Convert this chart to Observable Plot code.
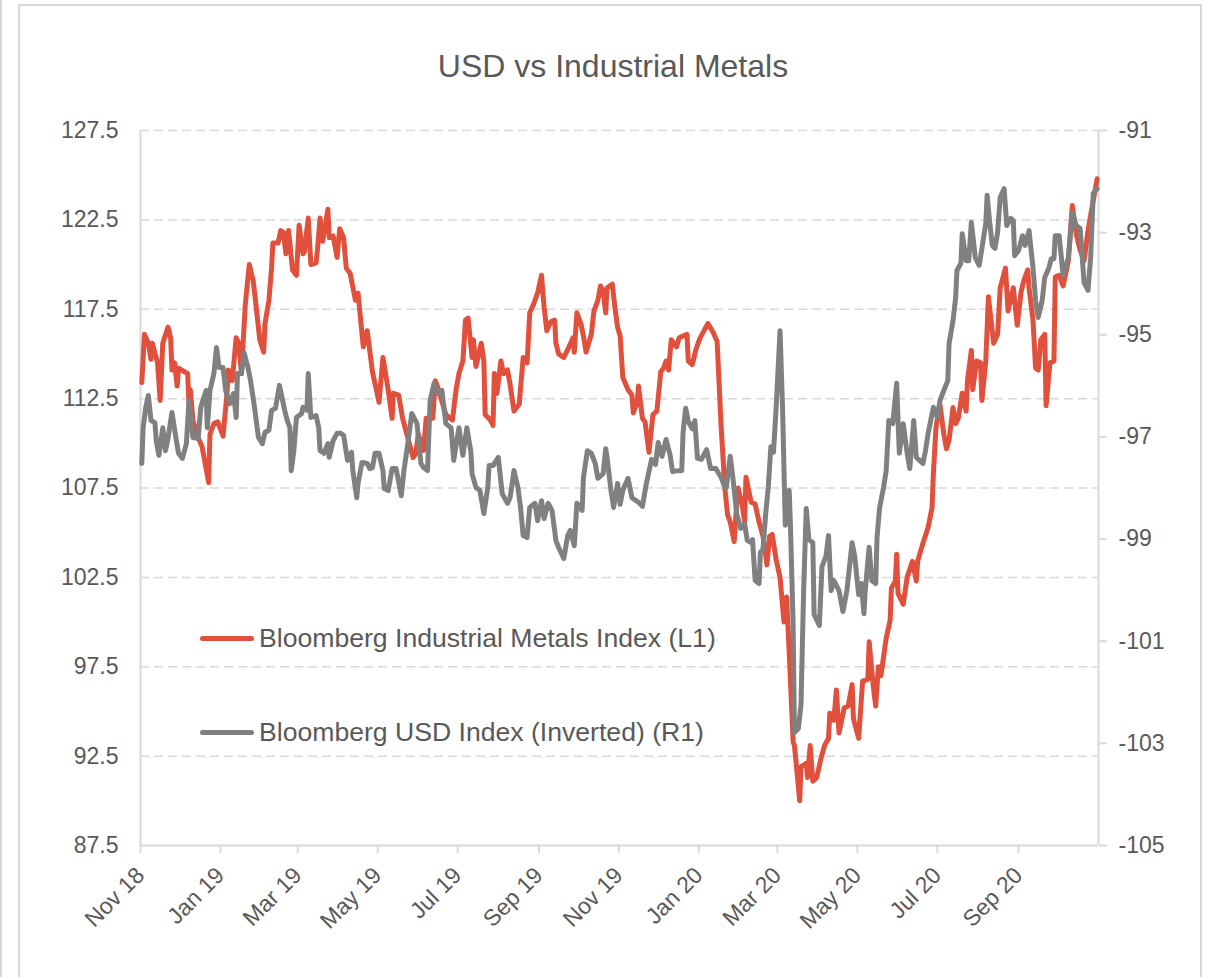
<!DOCTYPE html>
<html><head><meta charset="utf-8">
<script src="https://cdn.jsdelivr.net/npm/d3@7"></script>
<script src="https://cdn.jsdelivr.net/npm/@observablehq/plot@0.6"></script>
<style>
body{margin:0;background:#fff;font-family:"Liberation Sans",Arial,sans-serif;}
#wrap{position:relative;width:1214px;height:977px;overflow:hidden;background:#fff}
#edge{position:absolute;left:0;top:0;width:2px;height:977px;background:#d9d9d9}
#frame{position:absolute;left:18px;top:4px;width:1184px;height:1000px;border:2px solid #d9d9d9;box-sizing:border-box}
#title{position:absolute;left:0;width:1226px;top:50px;text-align:center;font-size:32px;line-height:1;color:#595959}
#chart{position:absolute;left:0;top:0}
.legt{position:absolute;left:259px;font-size:26.6px;line-height:1;color:#595959;white-space:nowrap}
.legl{position:absolute;left:200px;width:54px;height:5px;border-radius:3px}
</style></head>
<body>
<div id="wrap">
  <div id="edge"></div>
  <div id="frame"></div>
  <div id="chart"></div>
  <div id="title">USD vs Industrial Metals</div>
  <div class="legl" style="top:636px;background:#e0503c"></div>
  <div class="legt" style="top:625px">Bloomberg Industrial Metals Index (L1)</div>
  <div class="legl" style="top:730px;background:#808080"></div>
  <div class="legt" style="top:719px">Bloomberg USD Index (Inverted) (R1)</div>
</div>
<script>
// ---- data ----
const xDomain = ["2018-11-01", "2020-11-01"];
const xTickDates = ["2018-11-01","2019-01-01","2019-03-01","2019-05-01","2019-07-01","2019-09-01",
  "2019-11-01","2020-01-01","2020-03-01","2020-05-01","2020-07-01","2020-09-01"];
const leftTicks = [87.5, 92.5, 97.5, 102.5, 107.5, 112.5, 117.5, 122.5, 127.5];
const rightTicks = [-91, -93, -95, -97, -99, -101, -103, -105];
const rightDomain = [-105, -91];

const metalsDates = [
"2018-11-02","2018-11-04","2018-11-07","2018-11-09","2018-11-10","2018-11-14","2018-11-16","2018-11-18","2018-11-22","2018-11-24","2018-11-25","2018-11-27","2018-11-29","2018-11-30",
"2018-12-07","2018-12-08","2018-12-09","2018-12-11","2018-12-14","2018-12-18","2018-12-23","2018-12-24","2018-12-27","2018-12-30",
"2019-01-03","2019-01-06","2019-01-07","2019-01-10","2019-01-13","2019-01-15","2019-01-17","2019-01-20","2019-01-23","2019-01-26","2019-01-28","2019-01-31",
"2019-02-03","2019-02-04","2019-02-07","2019-02-09","2019-02-10","2019-02-14","2019-02-16","2019-02-18","2019-02-20","2019-02-22","2019-02-25","2019-02-28",
"2019-03-02","2019-03-05","2019-03-06","2019-03-09","2019-03-11","2019-03-15","2019-03-16","2019-03-18","2019-03-20","2019-03-24","2019-03-25","2019-03-28","2019-03-31",
"2019-04-02","2019-04-05","2019-04-07","2019-04-10","2019-04-14","2019-04-16","2019-04-20","2019-04-23","2019-04-27",
"2019-05-02","2019-05-05","2019-05-09","2019-05-12","2019-05-13","2019-05-17","2019-05-20","2019-05-24","2019-05-28","2019-05-30",
"2019-06-01","2019-06-05","2019-06-07","2019-06-12","2019-06-14","2019-06-16","2019-06-22","2019-06-27","2019-06-30",
"2019-07-02","2019-07-05","2019-07-07","2019-07-09","2019-07-12","2019-07-13","2019-07-15","2019-07-19","2019-07-21","2019-07-22","2019-07-26","2019-07-28","2019-07-29","2019-07-31",
"2019-08-03","2019-08-05","2019-08-08","2019-08-10","2019-08-13","2019-08-17","2019-08-20","2019-08-23","2019-08-25","2019-08-28","2019-08-31",
"2019-09-03","2019-09-05","2019-09-07","2019-09-10","2019-09-13","2019-09-14","2019-09-16","2019-09-20","2019-09-24","2019-09-27","2019-09-28","2019-09-30",
"2019-10-03","2019-10-05","2019-10-07","2019-10-11","2019-10-13","2019-10-16","2019-10-18","2019-10-20","2019-10-22","2019-10-23","2019-10-27","2019-10-29","2019-10-31",
"2019-11-02","2019-11-04","2019-11-08","2019-11-11","2019-11-12","2019-11-15","2019-11-16","2019-11-19","2019-11-21","2019-11-24","2019-11-27","2019-11-30",
"2019-12-03","2019-12-05","2019-12-07","2019-12-09","2019-12-11","2019-12-15","2019-12-17","2019-12-23","2019-12-24","2019-12-27","2019-12-30",
"2020-01-02","2020-01-08","2020-01-12","2020-01-15","2020-01-18","2020-01-21","2020-01-23","2020-01-25","2020-01-28","2020-01-30","2020-01-31",
"2020-02-03","2020-02-05","2020-02-06","2020-02-10","2020-02-13","2020-02-16","2020-02-19","2020-02-22","2020-02-24","2020-02-26","2020-02-29",
"2020-03-03","2020-03-06","2020-03-08","2020-03-10","2020-03-13","2020-03-14","2020-03-18","2020-03-19","2020-03-23","2020-03-24","2020-03-26","2020-03-28","2020-03-31",
"2020-04-03","2020-04-06","2020-04-09","2020-04-10","2020-04-13","2020-04-15","2020-04-17","2020-04-21","2020-04-24","2020-04-27","2020-04-28",
"2020-05-02","2020-05-05","2020-05-09","2020-05-10","2020-05-13","2020-05-15","2020-05-17","2020-05-19","2020-05-23","2020-05-26","2020-05-27","2020-05-30","2020-05-31",
"2020-06-01","2020-06-05","2020-06-08","2020-06-12","2020-06-15","2020-06-16","2020-06-20","2020-06-24","2020-06-27","2020-06-28","2020-06-30",
"2020-07-03","2020-07-06","2020-07-08","2020-07-10","2020-07-13","2020-07-15","2020-07-17","2020-07-20","2020-07-23","2020-07-24","2020-07-27","2020-07-28","2020-07-31",
"2020-08-03","2020-08-04","2020-08-07","2020-08-09","2020-08-13","2020-08-16","2020-08-18","2020-08-22","2020-08-24","2020-08-28","2020-08-30","2020-08-31",
"2020-09-03","2020-09-05","2020-09-08","2020-09-09","2020-09-12","2020-09-14","2020-09-16","2020-09-18","2020-09-21","2020-09-22","2020-09-25","2020-09-28","2020-09-29",
"2020-10-02","2020-10-05","2020-10-09","2020-10-12","2020-10-15","2020-10-18","2020-10-21","2020-10-24","2020-10-28","2020-10-31"];
const metalsValues = [
113.4,116.1,115.6,114.7,115.6,114.5,112.4,115.6,116.5,115.9,114.1,114.5,113.2,114.2,
113.9,112.2,113.0,111.3,110.5,109.8,107.8,110.5,111.1,111.2,
110.4,112.8,114.1,113.5,115.9,115.6,113.9,117.8,120.0,119.1,117.8,115.8,
115.1,116.7,118.0,119.8,121.2,121.2,121.9,121.8,120.6,121.9,119.7,119.4,
122.2,120.6,120.7,122.6,120.0,120.1,120.8,122.6,121.3,123.1,121.5,121.6,120.4,
122.0,121.5,119.8,119.5,118.0,118.4,115.4,116.3,114.0,
112.3,114.8,113.0,111.4,112.8,112.7,111.4,110.3,109.2,109.4,
110.5,109.6,111.4,111.4,113.5,113.1,111.6,111.3,113.1,
113.9,114.6,116.9,117.0,114.8,115.8,114.3,115.6,114.6,111.6,111.3,111.0,113.9,112.8,
114.6,113.9,114.1,113.3,111.8,112.2,114.8,114.5,117.3,117.8,118.4,
119.4,117.6,116.3,116.8,116.9,115.6,115.0,114.8,115.4,115.9,115.1,117.3,
116.7,116.0,115.1,116.1,117.4,118.0,118.8,118.5,117.3,118.7,118.9,117.6,116.5,
116.0,113.7,113.0,112.7,111.7,112.3,113.2,111.4,111.2,109.5,111.6,111.8,
114.0,114.2,114.6,114.1,115.8,115.4,115.9,116.1,114.6,114.4,115.3,
115.9,116.7,116.2,115.7,111.0,107.4,106.0,105.6,104.5,106.7,107.5,
106.6,105.6,108.1,106.7,106.6,105.6,104.8,103.2,104.8,104.9,103.5,
102.5,100.0,101.4,98.3,93.3,93.1,90.0,91.9,92.1,91.3,93.1,91.1,91.3,
92.3,93.1,93.5,94.9,94.5,96.2,93.8,95.2,95.3,96.5,94.6,
93.5,96.7,96.8,98.9,96.5,95.3,97.5,97.0,99.1,100.1,101.9,102.3,103.8,
101.6,101.0,102.5,103.4,102.3,103.4,104.4,105.3,106.4,108.3,110.9,
112.2,110.5,109.7,110.2,112.0,111.1,111.4,112.8,111.8,113.5,115.2,113.0,114.6,
114.5,112.4,114.6,118.2,115.6,116.1,118.7,119.8,117.4,118.7,117.3,116.6,
118.5,119.1,119.7,118.7,116.9,114.2,114.1,115.8,116.1,112.1,114.5,114.6,119.3,
119.4,118.8,120.2,123.3,121.7,120.8,120.2,121.9,123.6,124.8];

const usdDates = [
"2018-11-02","2018-11-03","2018-11-05","2018-11-07","2018-11-09","2018-11-12","2018-11-13","2018-11-15","2018-11-18","2018-11-20","2018-11-22","2018-11-25","2018-11-28","2018-11-30",
"2018-12-03","2018-12-06","2018-12-08","2018-12-11","2018-12-15","2018-12-17","2018-12-21","2018-12-22","2018-12-24","2018-12-27","2018-12-29","2018-12-31",
"2019-01-03","2019-01-05","2019-01-08","2019-01-11","2019-01-13","2019-01-14","2019-01-17","2019-01-19","2019-01-22","2019-01-24","2019-01-27","2019-01-30",
"2019-02-02","2019-02-04","2019-02-07","2019-02-09","2019-02-12","2019-02-15","2019-02-17","2019-02-19","2019-02-21","2019-02-23","2019-02-24","2019-02-26","2019-02-28",
"2019-03-04","2019-03-05","2019-03-08","2019-03-09","2019-03-11","2019-03-15","2019-03-17","2019-03-18","2019-03-21","2019-03-24","2019-03-25","2019-03-28","2019-03-31",
"2019-04-03","2019-04-05","2019-04-08","2019-04-11","2019-04-12","2019-04-15","2019-04-16","2019-04-19","2019-04-23","2019-04-25","2019-04-27","2019-04-29",
"2019-05-02","2019-05-05","2019-05-06","2019-05-09","2019-05-12","2019-05-15","2019-05-19","2019-05-21","2019-05-24","2019-05-27","2019-05-29","2019-05-31",
"2019-06-03","2019-06-05","2019-06-08","2019-06-10","2019-06-13","2019-06-16","2019-06-19","2019-06-22","2019-06-26","2019-06-28","2019-06-30",
"2019-07-02","2019-07-05","2019-07-08","2019-07-11","2019-07-12","2019-07-15","2019-07-18","2019-07-21","2019-07-24","2019-07-25","2019-07-28",
"2019-08-01","2019-08-04","2019-08-08","2019-08-10","2019-08-13","2019-08-16","2019-08-18","2019-08-20","2019-08-23","2019-08-25","2019-08-29","2019-08-31",
"2019-09-03","2019-09-05","2019-09-08","2019-09-11","2019-09-14","2019-09-16","2019-09-20","2019-09-23","2019-09-25","2019-09-28","2019-09-30",
"2019-10-04","2019-10-05","2019-10-08","2019-10-11","2019-10-14","2019-10-16","2019-10-20","2019-10-22","2019-10-23","2019-10-26","2019-10-28","2019-10-31",
"2019-11-02","2019-11-04","2019-11-08","2019-11-11","2019-11-16","2019-11-19","2019-11-22","2019-11-26","2019-11-29",
"2019-12-01","2019-12-04","2019-12-07","2019-12-10","2019-12-12","2019-12-16","2019-12-19","2019-12-20","2019-12-22","2019-12-24","2019-12-27","2019-12-29","2019-12-31",
"2020-01-03","2020-01-07","2020-01-10","2020-01-14","2020-01-18","2020-01-21","2020-01-22","2020-01-25","2020-01-27","2020-01-30",
"2020-02-02","2020-02-05","2020-02-07","2020-02-10","2020-02-11","2020-02-13","2020-02-16","2020-02-17","2020-02-19","2020-02-21","2020-02-23","2020-02-25","2020-02-27","2020-02-29",
"2020-03-03","2020-03-05","2020-03-07","2020-03-10","2020-03-11","2020-03-13","2020-03-14","2020-03-17","2020-03-19","2020-03-21","2020-03-23","2020-03-25","2020-03-28","2020-03-29",
"2020-04-02","2020-04-04","2020-04-07","2020-04-09","2020-04-11","2020-04-13","2020-04-17","2020-04-20","2020-04-23","2020-04-27","2020-04-29",
"2020-05-02","2020-05-04","2020-05-06","2020-05-07","2020-05-10","2020-05-12","2020-05-15","2020-05-16","2020-05-18","2020-05-21","2020-05-23","2020-05-25","2020-05-28","2020-05-31",
"2020-06-02","2020-06-05","2020-06-08","2020-06-10","2020-06-13","2020-06-15","2020-06-20","2020-06-22","2020-06-24","2020-06-26","2020-06-28",
"2020-07-01","2020-07-03","2020-07-06","2020-07-09","2020-07-10","2020-07-13","2020-07-15","2020-07-16","2020-07-19","2020-07-20","2020-07-23","2020-07-25","2020-07-27","2020-07-30",
"2020-08-02","2020-08-05","2020-08-07","2020-08-08","2020-08-10","2020-08-12","2020-08-14","2020-08-16","2020-08-18","2020-08-21","2020-08-23","2020-08-26","2020-08-28","2020-08-29",
"2020-09-01","2020-09-04","2020-09-06","2020-09-09","2020-09-12","2020-09-14","2020-09-16","2020-09-19","2020-09-21","2020-09-24","2020-09-26","2020-09-28","2020-09-29",
"2020-10-02","2020-10-05","2020-10-09","2020-10-12","2020-10-15","2020-10-18","2020-10-21","2020-10-24","2020-10-26","2020-10-28","2020-10-31"];
const usdValues = [
-97.52,-96.82,-96.42,-96.19,-96.68,-96.72,-97.07,-97.36,-96.82,-97.27,-97.03,-96.52,-97.01,-97.32,
-97.42,-97.13,-96.29,-97.01,-97.03,-96.42,-96.09,-96.82,-96.09,-95.76,-95.25,-95.64,
-95.64,-96.09,-96.35,-96.15,-96.62,-95.76,-95.76,-95.35,-95.64,-95.90,-96.42,-97.01,
-97.13,-96.91,-96.87,-96.48,-96.44,-95.99,-96.23,-96.48,-96.68,-96.82,-97.66,-97.27,-96.62,
-96.54,-96.42,-96.48,-95.76,-96.62,-96.58,-96.82,-97.27,-97.32,-97.13,-97.40,-97.07,-96.93,
-96.93,-96.97,-97.46,-97.30,-97.66,-98.19,-97.91,-97.50,-97.52,-97.62,-97.60,-97.32,
-97.32,-97.66,-98.01,-98.05,-97.62,-97.62,-98.15,-97.66,-97.13,-96.54,-96.64,-96.74,
-97.52,-97.60,-97.66,-96.29,-95.95,-96.15,-96.09,-96.74,-96.82,-97.46,-97.13,
-96.82,-97.36,-96.82,-97.27,-97.72,-97.99,-98.05,-98.50,-97.99,-97.56,-97.56,
-97.40,-98.11,-98.30,-98.19,-97.66,-97.99,-98.38,-98.93,-98.97,-98.38,-98.30,-98.64,
-98.25,-98.60,-98.30,-98.44,-99.03,-99.16,-99.38,-98.93,-98.83,-99.13,-98.30,
-98.44,-97.79,-97.27,-97.32,-97.52,-97.81,-97.72,-97.23,-97.40,-98.05,-98.38,-97.91,
-98.32,-98.05,-97.81,-98.19,-98.28,-98.36,-97.91,-97.44,-97.54,
-97.11,-97.38,-97.05,-97.34,-97.68,-97.66,-97.66,-96.91,-96.44,-96.70,-96.84,-96.68,-97.42,
-97.44,-97.25,-97.62,-97.62,-97.79,-97.99,-97.99,-97.38,-97.79,-98.52,
-98.79,-98.70,-99.03,-99.07,-99.01,-99.81,-99.87,-99.26,-99.20,-98.52,-97.99,-97.19,-97.30,-96.44,
-94.92,-96.50,-98.73,-98.05,-98.79,-100.69,-102.79,-102.71,-102.24,-100.01,-98.40,-99.01,-99.07,-100.48,
-100.69,-99.54,-99.34,-98.93,-100.01,-99.81,-100.01,-100.42,-100.01,-99.07,-99.34,
-100.09,-99.87,-100.46,-100.01,-99.16,-99.81,-99.87,-98.97,-98.38,-97.99,-97.66,-96.68,-96.74,-95.95,
-97.32,-96.74,-97.32,-97.62,-96.68,-97.40,-97.52,-97.27,-96.93,-96.68,-96.42,
-96.62,-96.29,-96.09,-95.90,-95.17,-94.72,-94.27,-93.74,-93.60,-93.02,-93.55,-93.55,-92.80,-93.49,
-93.64,-93.15,-92.82,-92.27,-92.80,-93.25,-93.31,-93.00,-92.31,-92.14,-92.86,-92.72,-92.76,-93.45,
-93.35,-93.06,-93.25,-92.96,-93.68,-94.33,-94.66,-94.33,-93.88,-93.70,-93.51,-93.51,-93.06,
-93.06,-93.84,-93.49,-92.61,-92.86,-92.92,-93.98,-94.13,-93.49,-92.23,-92.14];

// ---- build ----
const leftDomain = [leftTicks[0], leftTicks[leftTicks.length - 1]];
const toLeft = r => leftDomain[0] + (r - rightDomain[0]) * (leftDomain[1] - leftDomain[0]) / (rightDomain[1] - rightDomain[0]);
const fromLeft = v => rightDomain[0] + (v - leftDomain[0]) * (rightDomain[1] - rightDomain[0]) / (leftDomain[1] - leftDomain[0]);
const parse = d3.utcParse("%Y-%m-%d");
const metals = metalsDates.map((d, i) => ({date: parse(d), value: metalsValues[i]}));
const usd = usdDates.map((d, i) => ({date: parse(d), value: toLeft(usdValues[i])}));
const xd = xDomain.map(parse);
const grid = leftTicks.filter(v => v > leftDomain[0]);
const axisCol = "#d9d9d9";
const textCol = "#595959";

const chart = Plot.plot({
  width: 1214,
  height: 977,
  marginLeft: 140,
  marginRight: 116,
  marginTop: 130,
  marginBottom: 132,
  style: {fontFamily: "'Liberation Sans', Arial, sans-serif", fontSize: "23px", color: textCol, background: "transparent"},
  x: {type: "utc", domain: xd},
  y: {domain: leftDomain},
  marks: [
    Plot.ruleY(grid, {stroke: axisCol, strokeWidth: 1.5, strokeDasharray: "9,5"}),
    Plot.ruleX([xd[0]], {stroke: axisCol, strokeWidth: 2}),
    Plot.ruleX([xd[1]], {stroke: axisCol, strokeWidth: 2}),
    Plot.ruleY([leftDomain[0]], {stroke: axisCol, strokeWidth: 2}),
    Plot.axisY(leftTicks, {anchor: "left", tickSize: 0, tickPadding: 22, tickFormat: d => d.toFixed(1), fill: textCol, label: null}),
    Plot.axisY(rightTicks.map(toLeft), {anchor: "right", tickSize: 8, tickPadding: 12, stroke: axisCol, strokeWidth: 2, fill: textCol,
      tickFormat: d => String(Math.round(fromLeft(d))), label: null}),
    Plot.axisX(xTickDates.map(parse), {anchor: "bottom", tickSize: 8, tickPadding: 18, tickRotate: -45, stroke: axisCol, strokeWidth: 2, fill: textCol,
      tickFormat: d3.utcFormat("%b %y"), label: null}),
    Plot.line(metals, {x: "date", y: "value", stroke: "#e0503c", strokeWidth: 5, strokeLinejoin: "round", strokeLinecap: "round"}),
    Plot.line(usd, {x: "date", y: "value", stroke: "#808080", strokeWidth: 5, strokeLinejoin: "round", strokeLinecap: "round"})
  ]
});
document.getElementById("chart").appendChild(chart);
</script>
</body></html>
